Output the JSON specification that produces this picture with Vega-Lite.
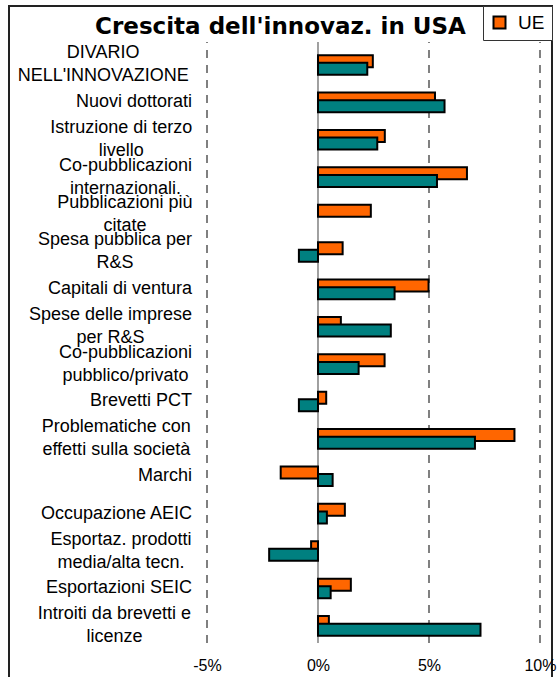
{
  "$schema": "https://vega.github.io/schema/vega-lite/v6.json",
  "width": 543,
  "height": 673,
  "autosize": "none",
  "padding": {"left": 9, "top": 6, "right": 7, "bottom": 0},
  "background": "white",
  "title": {
    "text": "Crescita dell'innovaz. in USA",
    "font": "DejaVu Sans",
    "fontSize": 23,
    "fontWeight": "bold",
    "color": "black",
    "anchor": "middle",
    "baseline": "alphabetic",
    "offset": -51
  },
  "config": {
    "view": {"stroke": "#222222", "strokeWidth": 2},
    "axisX": {
      "labelFont": "Liberation Sans",
      "labelFontSize": 16,
      "labelColor": "black",
      "grid": false,
      "domain": false,
      "ticks": false,
      "tickSize": 0,
      "labelPadding": 0,
      "labelFlush": false,
      "offset": -22
    },
    "axisY": {
      "labelFont": "Liberation Sans",
      "labelFontSize": 18,
      "labelColor": "black",
      "labelLineHeight": 23,
      "ticks": false,
      "tickSize": 0,
      "domain": false,
      "grid": false,
      "labelLimit": 400,
      "labelOverlap": false,
      "labelBaseline": "middle",
      "offset": -182.5
    }
  },
  "resolve": {"scale": {"y": "independent"}, "axis": {"y": "independent"}},
  "layer": [
    {
      "data": {"values": [
        {"value": -5, "kind": "grid"},
        {"value": 5, "kind": "grid"},
        {"value": 10, "kind": "grid"},
        {"value": 0, "kind": "zero"}
      ]},
      "layer": [
        {
          "transform": [{"filter": "datum.kind == 'grid'"}],
          "mark": {"type": "rule", "color": "#808080", "strokeWidth": 2, "strokeDash": [8, 7]},
          "encoding": {
            "x": {"field": "value", "type": "quantitative", "scale": {"domain": [-13.919, 10.541], "nice": false, "zero": false},
                  "axis": {"values": [-5, 0, 5, 10], "labelExpr": "datum.value + '%'", "title": null}},
            "y": {"datum": 0, "type": "quantitative", "scale": {"domain": [-0.0599, 1.0599], "nice": false, "zero": false}, "axis": null},
            "y2": {"datum": 1}
          }
        },
        {
          "transform": [{"filter": "datum.kind == 'zero'"}],
          "mark": {"type": "rule", "color": "#808080", "strokeWidth": 1.5},
          "encoding": {
            "x": {"field": "value", "type": "quantitative", "scale": {"domain": [-13.919, 10.541], "nice": false, "zero": false},
                  "axis": {"values": [-5, 0, 5, 10], "labelExpr": "datum.value + '%'", "title": null}},
            "y": {"datum": 0, "type": "quantitative", "scale": {"domain": [-0.0599, 1.0599], "nice": false, "zero": false}, "axis": null},
            "y2": {"datum": 1}
          }
        }
      ]
    },
    {
      "data": {"values": [
        {"cat": "DIVARIO|NELL'INNOVAZIONE", "serie": "UE", "value": 2.47},
        {"cat": "DIVARIO|NELL'INNOVAZIONE", "serie": "USA", "value": 2.22},
        {"cat": "Nuovi dottorati", "serie": "UE", "value": 5.27},
        {"cat": "Nuovi dottorati", "serie": "USA", "value": 5.70},
        {"cat": "Istruzione di terzo|livello", "serie": "UE", "value": 3.01},
        {"cat": "Istruzione di terzo|livello", "serie": "USA", "value": 2.67},
        {"cat": "Co-pubblicazioni|internazionali.", "serie": "UE", "value": 6.71},
        {"cat": "Co-pubblicazioni|internazionali.", "serie": "USA", "value": 5.36},
        {"cat": "Pubblicazioni più|citate", "serie": "UE", "value": 2.38},
        {"cat": "Spesa pubblica per|R&S", "serie": "UE", "value": 1.11},
        {"cat": "Spesa pubblica per|R&S", "serie": "USA", "value": -0.86},
        {"cat": "Capitali di ventura", "serie": "UE", "value": 4.98},
        {"cat": "Capitali di ventura", "serie": "USA", "value": 3.45},
        {"cat": "Spese delle imprese|per R&S", "serie": "UE", "value": 1.03},
        {"cat": "Spese delle imprese|per R&S", "serie": "USA", "value": 3.28},
        {"cat": "Co-pubblicazioni|pubblico/privato", "serie": "UE", "value": 3.00},
        {"cat": "Co-pubblicazioni|pubblico/privato", "serie": "USA", "value": 1.83},
        {"cat": "Brevetti PCT", "serie": "UE", "value": 0.37},
        {"cat": "Brevetti PCT", "serie": "USA", "value": -0.86},
        {"cat": "Problematiche con|effetti sulla società", "serie": "UE", "value": 8.85},
        {"cat": "Problematiche con|effetti sulla società", "serie": "USA", "value": 7.07},
        {"cat": "Marchi", "serie": "UE", "value": -1.68},
        {"cat": "Marchi", "serie": "USA", "value": 0.66},
        {"cat": "Occupazione AEIC", "serie": "UE", "value": 1.21},
        {"cat": "Occupazione AEIC", "serie": "USA", "value": 0.40},
        {"cat": "Esportaz. prodotti|media/alta tecn.", "serie": "UE", "value": -0.31},
        {"cat": "Esportaz. prodotti|media/alta tecn.", "serie": "USA", "value": -2.20},
        {"cat": "Esportazioni SEIC", "serie": "UE", "value": 1.48},
        {"cat": "Esportazioni SEIC", "serie": "USA", "value": 0.57},
        {"cat": "Introiti da brevetti e|licenze", "serie": "UE", "value": 0.49},
        {"cat": "Introiti da brevetti e|licenze", "serie": "USA", "value": 7.32}
      ]},
      "layer": [
        {
          "transform": [{"filter": "datum.serie == 'UE'"}],
          "mark": {"type": "bar", "height": 12, "yOffset": -3.8, "stroke": "black", "strokeWidth": 2},
          "encoding": {
            "y": {"field": "cat", "type": "nominal", "sort": null,
                  "scale": {"domain": ["DIVARIO|NELL'INNOVAZIONE", "Nuovi dottorati", "Istruzione di terzo|livello", "Co-pubblicazioni|internazionali.", "Pubblicazioni più|citate", "Spesa pubblica per|R&S", "Capitali di ventura", "Spese delle imprese|per R&S", "Co-pubblicazioni|pubblico/privato", "Brevetti PCT", "Problematiche con|effetti sulla società", "Marchi", "Occupazione AEIC", "Esportaz. prodotti|media/alta tecn.", "Esportazioni SEIC", "Introiti da brevetti e|licenze"],
                            "paddingInner": 0, "paddingOuter": 1.0747, "align": 0.539},
                  "axis": {"title": null, "labelExpr": "split(datum.label, '|')",
                           "labelOffset": {"condition": {"test": "indexof(datum.value, '|') >= 0", "value": -11.5}, "value": 0},
                           "labelAlign": {"condition": {"test": "indexof(datum.value, '|') >= 0", "value": "center"}, "value": "right"},
                           "labelPadding": {"condition": [
                             {"test": "datum.value == \"DIVARIO|NELL'INNOVAZIONE\"", "value": 88.8},
                             {"test": "datum.value == 'Istruzione di terzo|livello'", "value": 70.8},
                             {"test": "datum.value == 'Co-pubblicazioni|internazionali.'", "value": 66.5},
                             {"test": "datum.value == 'Pubblicazioni più|citate'", "value": 67.1},
                             {"test": "datum.value == 'Spesa pubblica per|R&S'", "value": 77},
                             {"test": "datum.value == 'Spese delle imprese|per R&S'", "value": 81.5},
                             {"test": "datum.value == 'Co-pubblicazioni|pubblico/privato'", "value": 66.5},
                             {"test": "datum.value == 'Problematiche con|effetti sulla società'", "value": 75.7},
                             {"test": "datum.value == 'Esportaz. prodotti|media/alta tecn.'", "value": 71},
                             {"test": "datum.value == 'Introiti da brevetti e|licenze'", "value": 77.6}
                           ], "value": 0}}},
            "x": {"field": "value", "type": "quantitative", "scale": {"domain": [-13.919, 10.541], "nice": false, "zero": false},
                  "axis": {"values": [-5, 0, 5, 10], "labelExpr": "datum.value + '%'", "title": null}},
            "x2": {"datum": 0},
            "color": {"field": "serie", "type": "nominal",
                      "scale": {"domain": ["UE", "USA"], "range": ["#FF6600", "#008080"]},
                      "legend": {"values": ["UE"], "title": null, "orient": "top-right", "offset": 0,
                                 "strokeColor": "#333333", "fillColor": "white", "padding": 7,
                                 "symbolType": "square", "symbolSize": 144, "symbolStrokeColor": "black", "symbolStrokeWidth": 2,
                                 "labelFont": "Liberation Sans", "labelFontSize": 19, "labelColor": "black", "labelOffset": 9}}
          }
        },
        {
          "transform": [{"filter": "datum.serie == 'USA'"}],
          "mark": {"type": "bar", "height": 12, "yOffset": 3.8, "stroke": "black", "strokeWidth": 2},
          "encoding": {
            "y": {"field": "cat", "type": "nominal", "sort": null},
            "x": {"field": "value", "type": "quantitative",
                  "axis": {"values": [-5, 0, 5, 10], "labelExpr": "datum.value + '%'", "title": null}},
            "x2": {"datum": 0},
            "color": {"field": "serie", "type": "nominal"}
          }
        }
      ]
    }
  ]
}
